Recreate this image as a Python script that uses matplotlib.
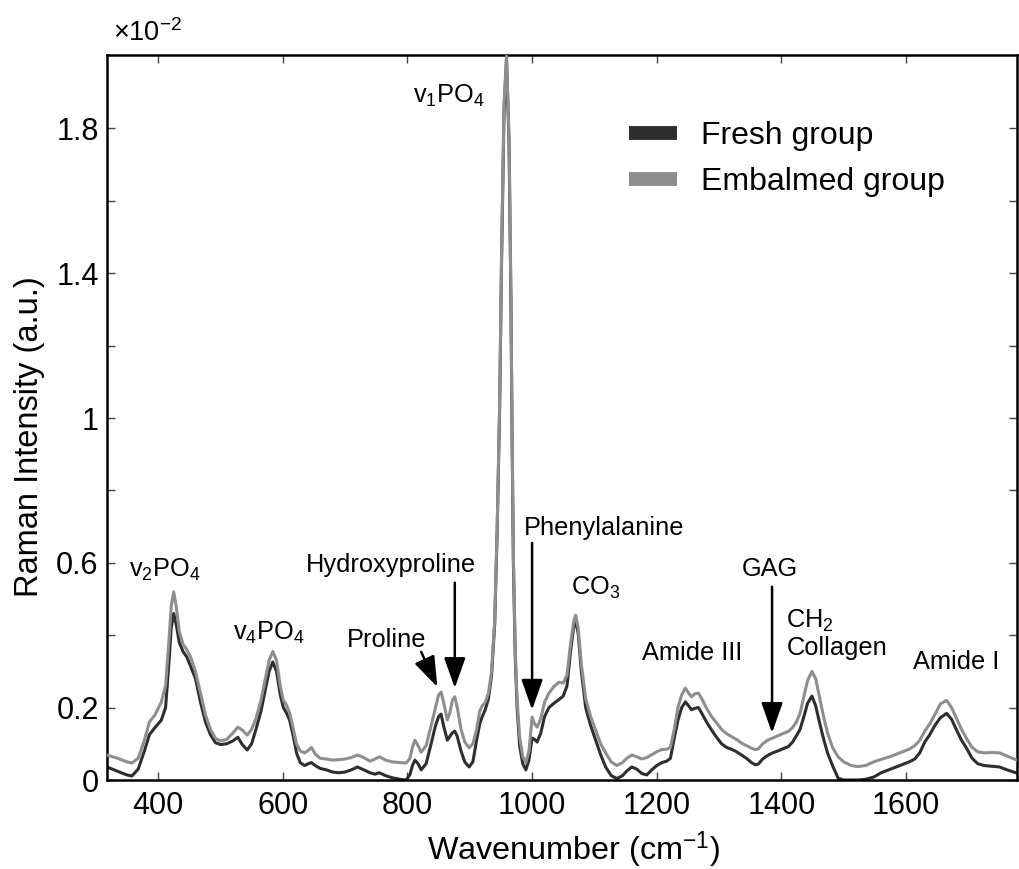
import matplotlib
matplotlib.use("Agg")
import matplotlib.pyplot as plt
from matplotlib.ticker import FixedLocator, FixedFormatter

plt.rcParams['font.family'] = ['Liberation Sans', 'DejaVu Sans']
plt.rcParams['mathtext.default'] = 'regular'

wavenumber = [318, 335, 350, 358, 368, 378, 386, 395, 405, 412, 418, 421, 425, 429, 434, 440, 446, 452, 460, 468,
              476, 484, 492, 500, 510, 520, 528, 535, 543, 550, 557, 565, 572, 578, 584, 590, 596, 601, 606, 611,
              617, 622, 628, 635, 641, 646, 652, 660, 670, 680, 690, 700, 710, 720, 730, 740, 748, 755, 765, 776,
              788, 798, 804, 808, 812, 817, 822, 830, 838, 845, 850, 854, 858, 864, 868, 872, 876, 880, 886, 892,
              899, 905, 911, 916, 920, 925, 930, 935, 940, 944, 948, 951, 955, 959, 963, 966, 968, 970, 973, 976,
              980, 985, 990, 995, 1000, 1004, 1008, 1014, 1020, 1027, 1035, 1043, 1050, 1056, 1062, 1067, 1070, 1074, 1079, 1086,
              1094, 1102, 1110, 1118, 1127, 1136, 1145, 1152, 1160, 1168, 1176, 1184, 1192, 1200, 1208, 1216, 1222, 1228, 1234, 1240,
              1246, 1251, 1256, 1261, 1267, 1273, 1280, 1288, 1296, 1304, 1312, 1320, 1328, 1336, 1344, 1352, 1358, 1363, 1370, 1378,
              1386, 1394, 1402, 1411, 1418, 1424, 1430, 1436, 1442, 1449, 1455, 1461, 1467, 1474, 1482, 1491, 1500, 1512, 1523, 1535,
              1548, 1560, 1575, 1590, 1605, 1614, 1622, 1630, 1638, 1646, 1655, 1665, 1673, 1681, 1689, 1697, 1706, 1715, 1725, 1738,
              1750, 1762, 1778]

embalmed = [0.069, 0.060, 0.050, 0.047, 0.060, 0.110, 0.160, 0.180, 0.215, 0.260, 0.400, 0.480, 0.520, 0.480, 0.410, 0.375, 0.360, 0.340, 0.300, 0.240,
            0.180, 0.140, 0.115, 0.108, 0.112, 0.130, 0.146, 0.138, 0.124, 0.140, 0.170, 0.220, 0.280, 0.330, 0.355, 0.330, 0.260, 0.220, 0.207, 0.185,
            0.140, 0.100, 0.080, 0.075, 0.082, 0.090, 0.072, 0.060, 0.058, 0.055, 0.056, 0.058, 0.062, 0.069, 0.062, 0.052, 0.058, 0.064, 0.055, 0.050,
            0.048, 0.047, 0.060, 0.090, 0.110, 0.095, 0.077, 0.095, 0.150, 0.200, 0.235, 0.243, 0.215, 0.166, 0.185, 0.220, 0.230, 0.200, 0.140, 0.105,
            0.089, 0.100, 0.140, 0.190, 0.205, 0.215, 0.240, 0.300, 0.440, 0.700, 1.050, 1.450, 1.870, 2.000, 1.780, 1.350, 0.950, 0.620, 0.360, 0.220,
            0.120, 0.065, 0.048, 0.080, 0.174, 0.155, 0.146, 0.170, 0.215, 0.240, 0.258, 0.270, 0.268, 0.290, 0.380, 0.440, 0.455, 0.420, 0.320, 0.225,
            0.175, 0.138, 0.100, 0.075, 0.050, 0.040, 0.048, 0.060, 0.069, 0.064, 0.058, 0.062, 0.070, 0.078, 0.084, 0.085, 0.090, 0.140, 0.200, 0.235,
            0.254, 0.240, 0.230, 0.238, 0.240, 0.222, 0.198, 0.175, 0.158, 0.140, 0.128, 0.120, 0.112, 0.102, 0.095, 0.088, 0.084, 0.086, 0.100, 0.110,
            0.116, 0.122, 0.128, 0.134, 0.145, 0.160, 0.185, 0.230, 0.275, 0.300, 0.280, 0.230, 0.180, 0.130, 0.090, 0.064, 0.050, 0.040, 0.037, 0.040,
            0.050, 0.057, 0.065, 0.075, 0.085, 0.095, 0.110, 0.135, 0.155, 0.180, 0.210, 0.220, 0.200, 0.170, 0.140, 0.115, 0.090, 0.078, 0.075, 0.076,
            0.075, 0.066, 0.055]

fresh = [0.036, 0.024, 0.014, 0.011, 0.030, 0.080, 0.125, 0.145, 0.165, 0.200, 0.340, 0.420, 0.460, 0.430, 0.380, 0.355, 0.340, 0.315, 0.280, 0.215,
         0.160, 0.125, 0.103, 0.098, 0.100, 0.108, 0.118, 0.098, 0.083, 0.100, 0.140, 0.190, 0.250, 0.300, 0.326, 0.300, 0.235, 0.200, 0.185, 0.165,
         0.120, 0.075, 0.048, 0.040, 0.045, 0.048, 0.040, 0.032, 0.028, 0.022, 0.020, 0.022, 0.028, 0.036, 0.028, 0.020, 0.016, 0.020, 0.012, 0.006,
         0.002, 0.000, 0.015, 0.040, 0.055, 0.045, 0.028, 0.045, 0.100, 0.150, 0.175, 0.182, 0.150, 0.110, 0.120, 0.130, 0.135, 0.120, 0.080, 0.050,
         0.036, 0.050, 0.110, 0.155, 0.175, 0.195, 0.225, 0.290, 0.430, 0.690, 1.030, 1.430, 1.850, 1.990, 1.760, 1.330, 0.930, 0.600, 0.340, 0.200,
         0.095, 0.045, 0.028, 0.055, 0.116, 0.112, 0.105, 0.130, 0.175, 0.200, 0.212, 0.222, 0.232, 0.260, 0.360, 0.425, 0.440, 0.405, 0.300, 0.200,
         0.150, 0.110, 0.070, 0.036, 0.012, 0.004, 0.012, 0.025, 0.036, 0.030, 0.018, 0.014, 0.028, 0.040, 0.048, 0.052, 0.060, 0.115, 0.165, 0.200,
         0.216, 0.205, 0.194, 0.198, 0.200, 0.182, 0.160, 0.138, 0.118, 0.100, 0.090, 0.085, 0.078, 0.069, 0.060, 0.048, 0.042, 0.044, 0.058, 0.068,
         0.075, 0.080, 0.086, 0.092, 0.105, 0.122, 0.140, 0.175, 0.212, 0.232, 0.205, 0.160, 0.118, 0.075, 0.040, 0.005, 0.000, 0.000, 0.000, 0.002,
         0.008, 0.020, 0.030, 0.040, 0.050, 0.058, 0.075, 0.105, 0.125, 0.150, 0.172, 0.184, 0.168, 0.138, 0.110, 0.088, 0.060, 0.045, 0.040, 0.038,
         0.036, 0.028, 0.019]

series_labels = ["Fresh group", "Embalmed group"]
x_ticks = [400, 600, 800, 1000, 1200, 1400, 1600]
y_ticks = [0, 0.2, 0.6, 1.0, 1.4, 1.8]
y_tick_labels = ["0", "0.2", "0.6", "1", "1.4", "1.8"]
y_minor_ticks = [0.4, 0.8, 1.2, 1.6]

fig = plt.figure(figsize=(10.19, 8.69), dpi=100)
ax = fig.add_axes([107/1019, 1 - 780/869, (1017 - 107)/1019, (780 - 55)/869])

c_fresh = '#2e2e2e'
c_emb = '#8e8e8e'
ax.plot(wavenumber, fresh, color=c_fresh, lw=2.2, label=series_labels[0], zorder=2)
ax.plot(wavenumber, embalmed, color=c_emb, lw=2.2, label=series_labels[1], zorder=3)

ax.set_xlim(318, 1778)
ax.set_ylim(0, 2.003)
ax.xaxis.set_major_locator(FixedLocator(x_ticks))
ax.yaxis.set_major_locator(FixedLocator(y_ticks))
ax.yaxis.set_major_formatter(FixedFormatter(y_tick_labels))
ax.yaxis.set_minor_locator(FixedLocator(y_minor_ticks))
ax.tick_params(axis='both', which='both', direction='in', top=True, right=True,
               length=6, width=1.0, labelsize=22, color='#444444')
ax.tick_params(axis='x', pad=8)
ax.tick_params(axis='y', pad=6)
for s in ax.spines.values():
    s.set_linewidth(1.8)

ax.set_xlabel("Wavenumber (cm$^{-1}$)", fontsize=23.3)
ax.xaxis.set_label_coords(0.513, -0.068)
ax.set_ylabel("Raman Intensity (a.u.)", fontsize=23.5)
ax.yaxis.set_label_coords(-0.068, 0.474)
fig.text(113/1019, 1 - 33/869, "×10$^{-2}$", fontsize=19.5, ha='left', va='center')

leg = ax.legend(loc='center left', bbox_to_anchor=(629/1019, 1 - 159/869), bbox_transform=fig.transFigure,
                frameon=False, fontsize=23, handlelength=1.5, handletextpad=0.75, labelspacing=0.52,
                borderpad=0, borderaxespad=0)
for h in leg.get_lines():
    h.set_linewidth(10)
    h.set_solid_capstyle('butt')

afs = 18.3
ax.text(867, 1.89, "v$_1$PO$_4$", fontsize=afs, ha='center', va='center')
ax.text(411, 0.58, "v$_2$PO$_4$", fontsize=afs, ha='center', va='center')
ax.text(577, 0.406, "v$_4$PO$_4$", fontsize=afs, ha='center', va='center')
ax.text(1102, 0.531, "CO$_3$", fontsize=afs, ha='center', va='center')
ax.text(1257, 0.351, "Amide III", fontsize=afs, ha='center', va='center')
ax.text(1680, 0.326, "Amide I", fontsize=afs, ha='center', va='center')
ax.text(1408, 0.44, "CH$_2$", fontsize=afs, ha='left', va='center')
ax.text(1408, 0.365, "Collagen", fontsize=afs, ha='left', va='center')

arrow = dict(arrowstyle='-|>,head_length=0.85,head_width=0.3', color='black', lw=1.8,
             mutation_scale=22, shrinkA=0, shrinkB=0)
ax.text(766, 0.387, "Proline", fontsize=afs, ha='center', va='center')
ax.annotate("", xy=(848, 0.257), xytext=(822, 0.354), arrowprops=arrow)
ax.text(774, 0.594, "Hydroxyproline", fontsize=afs, ha='center', va='center')
ax.annotate("", xy=(876, 0.254), xytext=(876, 0.545), arrowprops=arrow)
ax.text(1115, 0.697, "Phenylalanine", fontsize=afs, ha='center', va='center')
ax.annotate("", xy=(1000, 0.194), xytext=(1000, 0.655), arrowprops=arrow)
ax.text(1382, 0.583, "GAG", fontsize=afs, ha='center', va='center')
ax.annotate("", xy=(1385, 0.13), xytext=(1385, 0.534), arrowprops=arrow)

fig.savefig("out.png", dpi=100)
